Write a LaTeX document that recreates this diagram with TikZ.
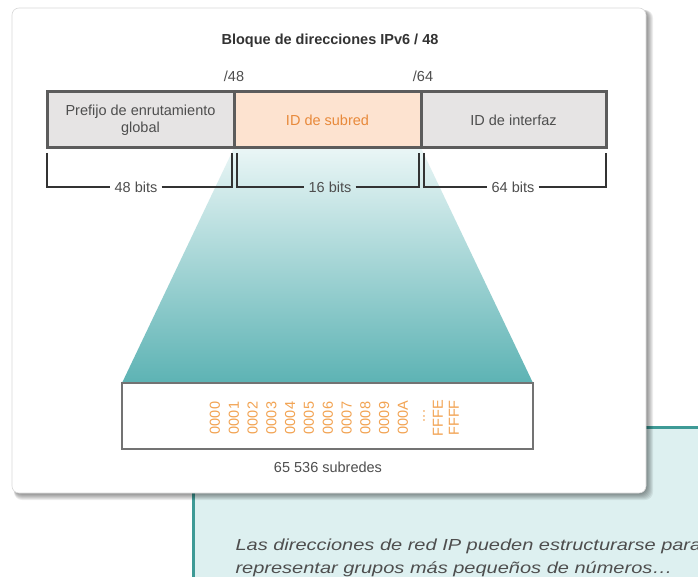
\documentclass[tikz,border=0pt]{standalone}
\usepackage{fontspec}
\usepackage{graphicx}
\setmainfont{Liberation Sans}
\usetikzlibrary{positioning, calc, backgrounds}

\definecolor{boxgray}{HTML}{E6E4E4}
\definecolor{boxpeach}{HTML}{FDE3D0}
\definecolor{edgegray}{HTML}{5C5C5C}
\definecolor{txtgray}{HTML}{4E4E4E}
\definecolor{subredorange}{HTML}{E8893A}
\definecolor{hexorange}{HTML}{F2A352}
\definecolor{tealline}{HTML}{3E9A96}
\definecolor{tealpale}{HTML}{DDF0F0}
\definecolor{tealmid}{HTML}{D0EAEA}
\definecolor{tealdeep}{HTML}{5DB3B4}
\definecolor{tealtop}{HTML}{EAF6F6}

\tikzset{
  lbl/.style={font=\fontsize{14.5}{17}\selectfont, text=txtgray},
  segbox/.style={draw=edgegray, line width=3pt, minimum height=56pt,
    inner sep=0pt, outer sep=0pt, align=center, lbl},
  bracket/.style={draw=black!80, line width=1.4pt},
  hexnum/.style={rotate=90, font=\fontsize{14.5}{17}\selectfont,
    text=hexorange, inner sep=0pt},
  notetext/.style={anchor=base west, text=txtgray,
    font=\fontsize{16}{20}\selectfont\itshape},
}

\begin{document}
\begin{tikzpicture}[x=1pt, y=-1pt]
  \useasboundingbox (0,0) rectangle (698,577);
  \clip (0,0) rectangle (698,577);
  % Back panel and card
  \begin{scope}[on background layer]
    \fill[white] (0,0) rectangle (698,577);
    \fill[tealpale] (193,427) rectangle (698,577);
    \draw[tealline, line width=3pt] (193,577) -- (193,427) -- (698,427);
    \foreach \k in {1,...,7}
      \fill[black, opacity=0.07, rounded corners=8pt]
        (14,10) rectangle (646+\k, 493+\k);
    \fill[white, draw=black!15, line width=0.6pt, rounded corners=7pt]
      (12,8) rectangle (646,493);
  \end{scope}
  % Title
  \node[font=\bfseries\fontsize{14.5}{17}\selectfont, text=black!80] (title)
    at (330,41) {Bloque de direcciones IPv6 / 48};
  % Address segments
  \node[segbox, fill=boxgray, minimum width=187pt] (prefix) at (140.5,120)
    {Prefijo de enrutamiento\\global};
  \node[segbox, fill=boxpeach, minimum width=187pt, text=subredorange,
    right=0pt of prefix] (subnet) {ID de subred};
  \node[segbox, fill=boxgray, minimum width=185pt,
    right=0pt of subnet] (iface) {ID de interfaz};
  % Prefix lengths
  \node[lbl] (cut48) at (234,76) {/48};
  \node[lbl] (cut64) at (423,76) {/64};
  % Bit widths
  \node[lbl, inner sep=4pt] (bits48) at (136,187) {48 bits};
  \node[lbl, inner sep=4pt] (bits16) at (330,187) {16 bits};
  \node[lbl, inner sep=4pt] (bits64) at (513,187) {64 bits};
  \draw[bracket] (47,153) -- (47,187) -- (bits48.west);
  \draw[bracket] (bits48.east) -- (232,187) -- (232,153);
  \draw[bracket] (237,153) -- (237,187) -- (bits16.west);
  \draw[bracket] (bits16.east) -- (419,187) -- (419,153);
  \draw[bracket] (424,153) -- (424,187) -- (bits64.west);
  \draw[bracket] (bits64.east) -- (606,187) -- (606,153);
  % Subnet list
  \node[draw=black!55, line width=1.5pt, fill=white, outer sep=0pt,
    minimum width=411pt, minimum height=66pt] (subnets) at (327.5,416) {};
  \begin{scope}[on background layer]
    \shade[top color=tealtop, middle color=tealmid, bottom color=tealdeep]
      (subnet.south west) -- (subnet.south east)
      -- (subnets.north east) -- (subnets.north west) -- cycle;
  \end{scope}
  \foreach \h [count=\i from 0] in
      {0000,0001,0002,0003,0004,0005,0006,0007,0008,0009,000A}
    \node[hexnum] (hex\i) at (215+18.8*\i, 418) {\h};
  \node[hexnum] (hexdots) at (424,416) {...};
  \node[hexnum] (hexfffe) at (438,418) {FFFE};
  \node[hexnum] (hexffff) at (454,418) {FFFF};
  \node[lbl] (count) at (328,467) {65 536 subredes};
  % Note
  \node[notetext] (note1) at (232,550)
    {\scalebox{1.25}[1]{Las direcciones de red IP pueden estructurarse para}};
  \node[notetext] (note2) at (232,573)
    {\scalebox{1.25}[1]{representar grupos más pequeños de números…}};
\end{tikzpicture}
\end{document}
